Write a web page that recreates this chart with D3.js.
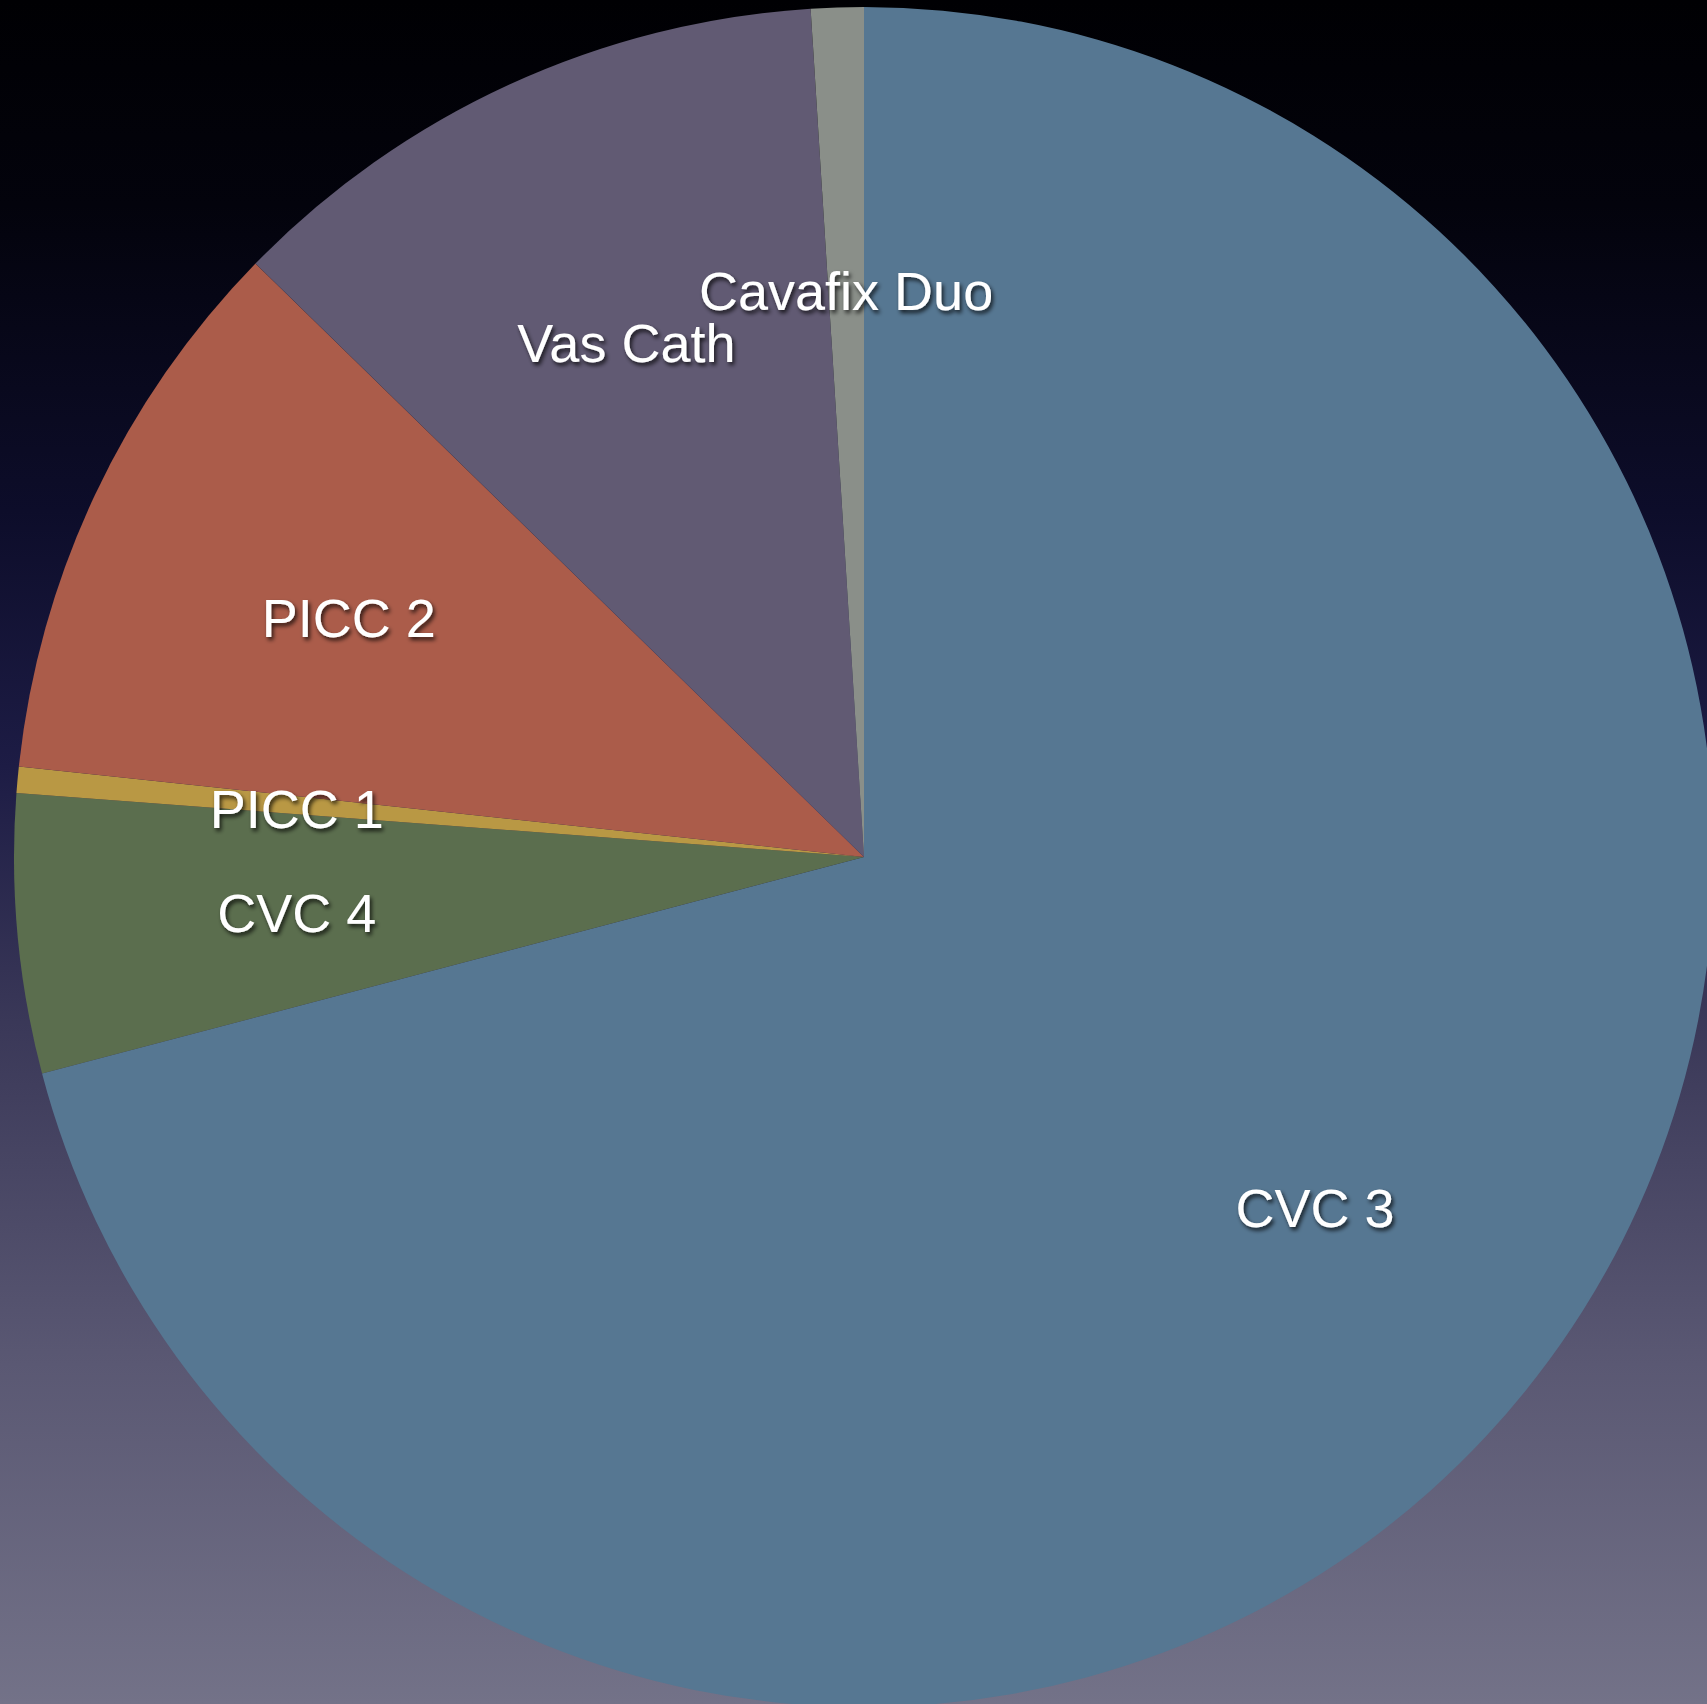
<!DOCTYPE html>
<html>
<head>
<meta charset="utf-8">
<script src="https://cdn.jsdelivr.net/npm/d3@7"></script>
<style>
  html, body { margin: 0; padding: 0; background: #000; }
  svg { display: block; }
</style>
</head>
<body>
<svg id="chart" width="1707" height="1704"></svg>
<script>
// Catheter types, shares in percent (clockwise from 12 o'clock)
const categories = ["CVC 3", "CVC 4", "PICC 1", "PICC 2", "Vas Cath", "Cavafix Duo"];
const values     = [70.9, 5.3, 0.5, 10.6, 11.7, 1.0];
const colors     = ["#567792", "#5b6e4e", "#b99844", "#ab5c4a", "#615a73", "#8a8f89"];

const W = 1707, H = 1704;
const cx = 864, cy = 857, R = 850;

const svg = d3.select("#chart");
const defs = svg.append("defs");

// Backdrop: dark night sky fading to a grey-violet at the bottom
const bg = defs.append("linearGradient")
  .attr("id", "bg").attr("x1", 0).attr("y1", 0).attr("x2", 0).attr("y2", 1);
[
  [0.00, "#000003"],
  [0.12, "#03030c"],
  [0.30, "#0d0d2a"],
  [0.45, "#1d1c45"],
  [0.60, "#3a3858"],
  [0.80, "#5a5873"],
  [1.00, "#737288"]
].forEach(([o, c]) => bg.append("stop").attr("offset", o).attr("stop-color", c));

const shadow = defs.append("filter").attr("id", "txtShadow")
  .attr("x", "-20%").attr("y", "-40%").attr("width", "140%").attr("height", "180%");
shadow.append("feDropShadow")
  .attr("dx", 2).attr("dy", 3).attr("stdDeviation", 2)
  .attr("flood-color", "#000").attr("flood-opacity", 0.75);

svg.append("rect").attr("width", W).attr("height", H).attr("fill", "url(#bg)");

const data = categories.map((c, i) => ({ name: c, value: values[i], color: colors[i] }));

const pie = d3.pie().sort(null).value(d => d.value);
const arcs = pie(data);

const arc = d3.arc().innerRadius(0).outerRadius(R);
const labelArc = d3.arc().innerRadius(R * 0.67).outerRadius(R * 0.67);

const g = svg.append("g").attr("transform", `translate(${cx},${cy})`);

g.selectAll("path.slice")
  .data(arcs)
  .join("path")
  .attr("class", "slice")
  .attr("d", arc)
  .attr("fill", d => d.data.color);

g.selectAll("text.label")
  .data(arcs)
  .join("text")
  .attr("class", "label")
  .attr("transform", d => `translate(${labelArc.centroid(d)})`)
  .attr("text-anchor", "middle")
  .attr("dy", "0.42em")
  .attr("fill", "#ffffff")
  .attr("filter", "url(#txtShadow)")
  .style("font-family", "'Liberation Sans', Arial, Helvetica, sans-serif")
  .style("font-size", "54px")
  .text(d => d.data.name);
</script>
</body>
</html>
